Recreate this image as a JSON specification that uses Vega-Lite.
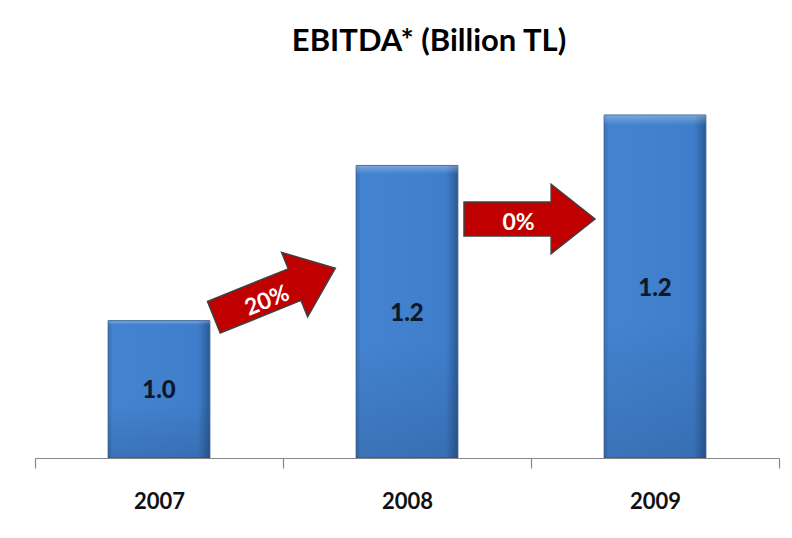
{
  "$schema": "https://vega.github.io/schema/vega-lite/v6.json",
  "width": 744,
  "height": 388,
  "autosize": {"type": "none"},
  "padding": {"left": 35, "top": 70, "right": 13, "bottom": 80},
  "background": "white",
  "title": {"text": "EBITDA* (Billion TL)", "font": "Lato", "fontSize": 31, "fontWeight": "bold", "color": "#000000", "anchor": "middle", "dx": 22, "offset": -12, "baseline": "alphabetic"},
  "datasets": {
    "bars": [
      {"year": "2007", "value": 1.0, "label": "1.0"},
      {"year": "2008", "value": 1.2, "label": "1.2"},
      {"year": "2009", "value": 1.265, "label": "1.2"}
    ],
    "arrows": [
      {"between": "2007-2008", "change": "20%", "pos": 0.966, "level": 1.036},
      {"between": "2008-2009", "change": "0%", "pos": 1.994, "level": 1.131}
    ]
  },
  "config": {
    "view": {"stroke": null},
    "scale": {"bandPaddingInner": 0, "bandPaddingOuter": 0}
  },
  "resolve": {"scale": {"x": "independent", "y": "independent"}},
  "layer": [
    {
      "data": {"name": "bars"},
      "mark": {
        "type": "bar",
        "width": {"band": 0.41},
        "fill": {"gradient": "linear", "x1": 0, "y1": 0, "x2": 1, "y2": 0, "stops": [
          {"offset": 0, "color": "#3a73bb"},
          {"offset": 0.05, "color": "#4383d0"},
          {"offset": 0.88, "color": "#3f7ecb"},
          {"offset": 0.95, "color": "#346aae"},
          {"offset": 1, "color": "#2b5890"}
        ]},
        "stroke": "#2d5b93",
        "strokeWidth": 1
      },
      "encoding": {
        "x": {"field": "year", "type": "nominal", "sort": null,
          "axis": {"title": null, "labelAngle": 0, "tickBand": "extent", "tickSize": 10, "tickColor": "#888888", "domainColor": "#888888", "domainWidth": 1.2, "tickWidth": 1.2, "labelFont": "Lato", "labelFontSize": 22, "labelFontWeight": "bold", "labelColor": "#111111", "labelPadding": 23, "grid": false, "zindex": 1}},
        "y": {"field": "value", "type": "quantitative", "scale": {"domain": [0.823, 1.323], "nice": false, "zero": false}, "axis": null},
        "y2": {"datum": 0.823}
      }
    },
    {
      "data": {"name": "bars"},
      "mark": {
        "type": "bar",
        "width": {"band": 0.41},
        "fill": {"gradient": "linear", "x1": 0, "y1": 0, "x2": 0, "y2": 1, "stops": [
          {"offset": 0, "color": "rgba(255,255,255,0.3)"},
          {"offset": 0.03, "color": "rgba(255,255,255,0)"},
          {"offset": 0.6, "color": "rgba(0,0,0,0)"},
          {"offset": 1, "color": "rgba(0,0,0,0.12)"}
        ]},
        "strokeWidth": 0
      },
      "encoding": {
        "x": {"field": "year", "type": "nominal", "sort": null, "axis": null},
        "y": {"field": "value", "type": "quantitative", "scale": {"domain": [0.823, 1.323], "nice": false, "zero": false}, "axis": null},
        "y2": {"datum": 0.823}
      }
    },
    {
      "data": {"name": "bars"},
      "mark": {"type": "text", "font": "Lato", "fontSize": 24, "fontWeight": 900, "color": "#0d1828", "baseline": "middle", "dy": 2},
      "encoding": {
        "x": {"field": "year", "type": "nominal", "sort": null, "axis": null},
        "y": {"field": "value", "type": "quantitative", "scale": {"domain": [0.823, 1.823], "nice": false, "zero": false}, "axis": null},
        "text": {"field": "label"}
      }
    },
    {
      "data": {"name": "arrows"},
      "transform": [{"filter": "datum.change === '20%'"}],
      "mark": {"type": "point", "shape": "M-1,-0.26L0.33,-0.26L0.33,-0.53L1,0L0.33,0.53L0.33,0.26L-1,0.26Z", "size": 17161, "angle": 338, "filled": true, "fill": "#c00000", "stroke": "#404040", "strokeWidth": 1.5, "opacity": 1},
      "encoding": {
        "x": {"field": "pos", "type": "quantitative", "scale": {"domain": [0, 3], "nice": false, "zero": false}, "axis": null},
        "y": {"field": "level", "type": "quantitative", "scale": {"domain": [0.823, 1.323], "nice": false, "zero": false}, "axis": null}
      }
    },
    {
      "data": {"name": "arrows"},
      "transform": [{"filter": "datum.change === '20%'"}],
      "mark": {"type": "text", "font": "Lato", "fontSize": 23, "fontWeight": "bold", "color": "#ffffff", "angle": 338, "baseline": "middle", "dx": -10, "dy": 5},
      "encoding": {
        "x": {"field": "pos", "type": "quantitative", "scale": {"domain": [0, 3], "nice": false, "zero": false}, "axis": null},
        "y": {"field": "level", "type": "quantitative", "scale": {"domain": [0.823, 1.323], "nice": false, "zero": false}, "axis": null},
        "text": {"field": "change"}
      }
    },
    {
      "data": {"name": "arrows"},
      "transform": [{"filter": "datum.change === '0%'"}],
      "mark": {"type": "point", "shape": "M-1,-0.26L0.33,-0.26L0.33,-0.53L1,0L0.33,0.53L0.33,0.26L-1,0.26Z", "size": 17161, "angle": 0, "filled": true, "fill": "#c00000", "stroke": "#404040", "strokeWidth": 1.5, "opacity": 1},
      "encoding": {
        "x": {"field": "pos", "type": "quantitative", "scale": {"domain": [0, 3], "nice": false, "zero": false}, "axis": null},
        "y": {"field": "level", "type": "quantitative", "scale": {"domain": [0.823, 1.323], "nice": false, "zero": false}, "axis": null}
      }
    },
    {
      "data": {"name": "arrows"},
      "transform": [{"filter": "datum.change === '0%'"}],
      "mark": {"type": "text", "font": "Lato", "fontSize": 23, "fontWeight": "bold", "color": "#ffffff", "baseline": "middle", "dx": -11, "dy": 4},
      "encoding": {
        "x": {"field": "pos", "type": "quantitative", "scale": {"domain": [0, 3], "nice": false, "zero": false}, "axis": null},
        "y": {"field": "level", "type": "quantitative", "scale": {"domain": [0.823, 1.323], "nice": false, "zero": false}, "axis": null},
        "text": {"field": "change"}
      }
    }
  ]
}
